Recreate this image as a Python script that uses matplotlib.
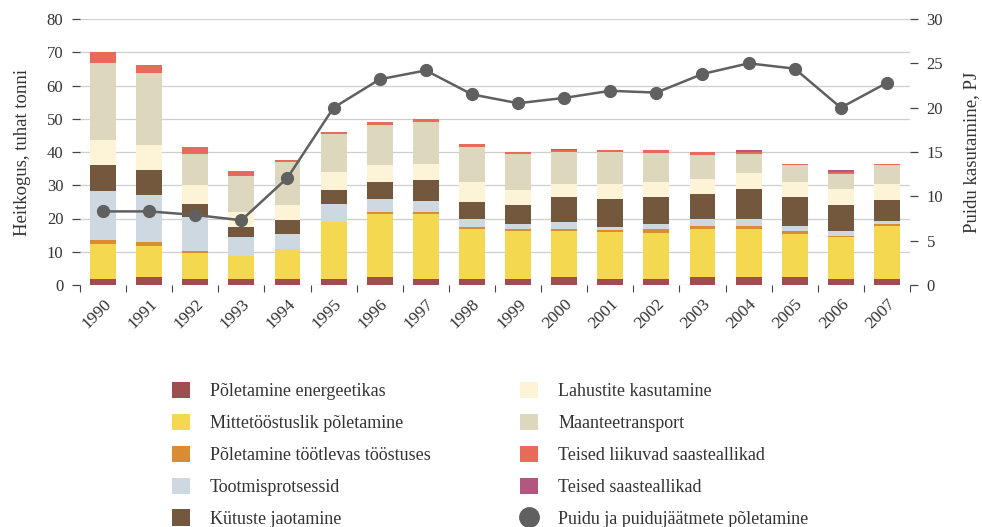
import matplotlib
matplotlib.use("Agg")
import matplotlib.pyplot as plt
import matplotlib.patches as patches
from matplotlib.lines import Line2D
import numpy as np

plt.rcParams['font.family'] = ['Liberation Serif', 'DejaVu Serif']

years = [str(y) for y in range(1990, 2008)]

# emissions, thousand tonnes (stacked from bottom)
energeetika = [1.8, 2.4, 1.8, 1.8, 1.8, 1.8, 2.4, 1.8, 1.8, 1.8, 2.4, 1.8, 1.8, 2.4, 2.4, 2.4, 1.8, 1.8]
mittetoostuslik = [10.5, 9.3, 7.8, 7.0, 9.0, 17.2, 19.0, 19.6, 15.0, 14.4, 13.8, 14.1, 13.8, 14.4, 14.4, 12.9, 12.6, 15.9]
tootlev = [1.3, 1.2, 0.6, 0.0, 0.0, 0.0, 0.6, 0.6, 0.6, 0.6, 0.6, 0.6, 1.2, 0.9, 0.9, 0.9, 0.3, 0.6]
tootmine = [14.7, 14.2, 10.3, 5.6, 4.5, 5.4, 3.9, 3.3, 2.4, 1.5, 2.1, 0.9, 1.5, 2.1, 2.1, 1.5, 1.5, 0.9]
kytused = [7.8, 7.5, 3.9, 3.0, 4.2, 4.2, 5.1, 6.3, 5.2, 5.8, 7.6, 8.5, 8.2, 7.6, 9.1, 8.8, 7.9, 6.4]
lahustid = [7.5, 7.5, 5.7, 4.6, 4.6, 5.4, 5.1, 4.8, 6.0, 4.5, 3.9, 4.5, 4.5, 4.5, 4.8, 4.5, 4.8, 4.8]
maantee = [23.2, 21.7, 9.3, 10.8, 12.9, 11.4, 12.0, 12.6, 10.5, 10.8, 9.6, 9.6, 8.7, 7.2, 5.7, 5.1, 4.5, 5.7]
liikuvad = [3.3, 2.4, 2.1, 1.5, 0.6, 0.6, 0.9, 0.9, 0.9, 0.6, 0.6, 0.6, 0.9, 0.9, 0.6, 0.3, 0.6, 0.3]
teised = [0.0, 0.0, 0.0, 0.0, 0.0, 0.0, 0.0, 0.0, 0.0, 0.0, 0.3, 0.0, 0.0, 0.0, 0.6, 0.0, 0.6, 0.0]

# wood use, PJ
puit = [8.3, 8.3, 7.9, 7.3, 12.1, 20.0, 23.2, 24.2, 21.5, 20.5, 21.1, 21.9, 21.7, 23.8, 25.0, 24.4, 20.0, 22.8]

series = [
    ("Põletamine energeetikas", energeetika, "#9e4d51"),
    ("Mittetööstuslik põletamine", mittetoostuslik, "#f3d850"),
    ("Põletamine töötlevas tööstuses", tootlev, "#d98c31"),
    ("Tootmisprotsessid", tootmine, "#cdd8e0"),
    ("Kütuste jaotamine", kytused, "#73583d"),
    ("Lahustite kasutamine", lahustid, "#fdf3d7"),
    ("Maanteetransport", maantee, "#dcd7bd"),
    ("Teised liikuvad saasteallikad", liikuvad, "#e86a5b"),
    ("Teised saasteallikad", teised, "#b0587f"),
]
line_label = "Puidu ja puidujäätmete põletamine"
line_color = "#606060"
text_color = "#333333"

fig = plt.figure(figsize=(9.82, 5.27), dpi=100)
ax = fig.add_axes([80 / 982, 1 - 285 / 527, 830 / 982, 266 / 527])

x = np.arange(len(years))
bottom = np.zeros(len(years))
handles = []
for label, vals, col in series:
    ax.bar(x, vals, width=0.56, bottom=bottom, color=col, edgecolor='none', zorder=2)
    bottom += np.array(vals)
    handles.append(patches.Patch(facecolor=col, edgecolor='none', label=label))

ax.set_xlim(-0.5, len(years) - 0.5)
ax.set_ylim(0, 80)
ax.set_yticks(range(0, 81, 10))
ax.grid(axis='y', color='#cfcfcf', linewidth=0.9, zorder=0)
ax.set_axisbelow(True)
for s in ax.spines.values():
    s.set_visible(False)

ax.set_xticks(x)
ax.set_xticklabels(years, rotation=45, ha='right', rotation_mode='anchor',
                   fontsize=12.5, color=text_color)
ax.tick_params(axis='x', which='major', length=0, pad=8)
ax.set_xticks(np.arange(-0.5, len(years), 1.0), minor=True)
ax.tick_params(axis='x', which='minor', length=5, color='#444444', width=0.8)
ax.tick_params(axis='y', length=6, width=0.9, color='#444444', pad=6,
               labelsize=12, labelcolor=text_color)
ax.set_ylabel("Heitkogus, tuhat tonni", fontsize=13.5, color=text_color, labelpad=11)

ax2 = ax.twinx()
ax2.plot(x, puit, color=line_color, linewidth=1.8, marker='o', markersize=8.5, zorder=5)
ax2.set_ylim(0, 30)
ax2.set_yticks(range(0, 31, 5))
for s in ax2.spines.values():
    s.set_visible(False)
ax2.tick_params(axis='y', length=6, width=0.9, color='#444444', pad=6,
                labelsize=12, labelcolor=text_color)
ax2.set_ylabel("Puidu kasutamine, PJ", fontsize=13.5, color=text_color, labelpad=14)

line_handle = Line2D([], [], marker='o', linestyle='none', markersize=14,
                     color=line_color, label=line_label)

leg_kw = dict(frameon=False, fontsize=13, handlelength=1.0, handleheight=1.0,
              handletextpad=1.1, labelspacing=0.75, borderaxespad=0, borderpad=0.4)
l1 = fig.legend(handles=handles[:5], loc='upper left',
                bbox_to_anchor=(165 / 982, 1 - 375 / 527), **leg_kw)
l2 = fig.legend(handles=handles[5:] + [line_handle], loc='upper left',
                bbox_to_anchor=(513 / 982, 1 - 375 / 527), **leg_kw)
for lg in (l1, l2):
    for t in lg.get_texts():
        t.set_color(text_color)

fig.savefig("out.png", dpi=100)
